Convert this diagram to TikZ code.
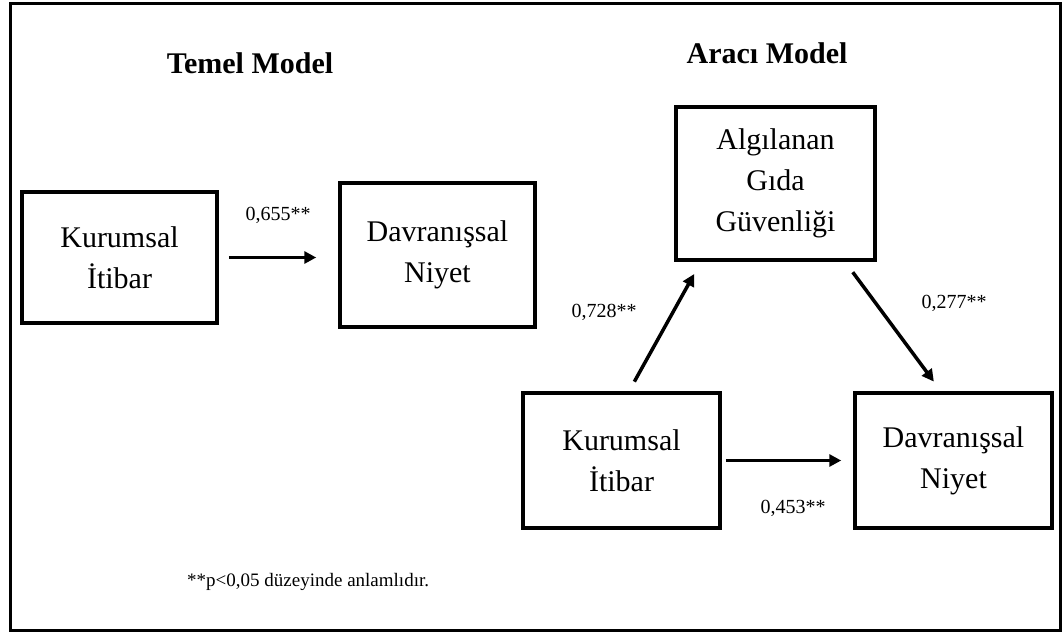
\documentclass[tikz,border=0pt]{standalone}
\usepackage{fontspec}
\setmainfont{Liberation Serif}
\usetikzlibrary{arrows.meta}
\begin{document}
\begin{tikzpicture}[x=1pt,y=-1pt,
  boxnode/.style={draw,line width=3.5pt,rectangle,inner sep=0pt,align=center,
    font=\fontsize{30}{41}\selectfont},
  titletext/.style={font=\fontsize{30}{36}\selectfont\bfseries},
  coeff/.style={font=\fontsize{20}{24}\selectfont,inner sep=0pt},
  notetext/.style={font=\fontsize{19}{23}\selectfont,inner sep=0pt},
  path arrow/.style={line width=3.5pt,-{Triangle[length=12pt,width=12pt]}}]
\useasboundingbox (0,0) rectangle (1063,632);
% outer frame
\draw[line width=3pt] (10,3) rectangle (1060,630);

% basic model
\node[titletext] (t1) at (250,63) {Temel Model};
\node[boxnode,minimum width=195pt,minimum height=131pt] (ki1) at (119.5,257.5) {Kurumsal\\İtibar};
\node[boxnode,minimum width=195pt,minimum height=144pt] (dn1) at (437.5,255) {Davranışsal\\Niyet};
\draw[path arrow,shorten <=10pt,shorten >=22pt] (ki1.east) -- (ki1.east -| dn1.west);
\node[coeff] (c1) at (278,215) {0,655**};

% mediation model
\node[titletext] (t2) at (767,53) {Aracı Model};
\node[boxnode,minimum width=199pt,minimum height=153pt] (alg) at (775.5,183.5) {Algılanan\\Gıda\\Güvenliği};
\node[boxnode,minimum width=197pt,minimum height=135pt] (ki2) at (621.5,460.5) {Kurumsal\\İtibar};
\node[boxnode,minimum width=197pt,minimum height=135pt] (dn2) at (953.5,460.5) {Davranışsal\\Niyet};
\draw[path arrow,shorten <=11pt,shorten >=14pt] ([xshift=7.5pt]ki2.north) -- ([xshift=-74.5pt]alg.south);
\draw[path arrow,shorten <=13pt,shorten >=12pt] ([xshift=69.5pt]alg.south) -- ([xshift=-12.5pt]dn2.north);
\draw[path arrow,shorten <=4pt,shorten >=12pt] (ki2.east) -- (dn2.west);
\node[coeff] (c2) at (604,312) {0,728**};
\node[coeff] (c3) at (954,303) {0,277**};
\node[coeff] (c4) at (793,508) {0,453**};

% footnote
\node[notetext,anchor=west] (fn) at (187,582) {**p<0,05 düzeyinde anlamlıdır.};
\end{tikzpicture}
\end{document}
